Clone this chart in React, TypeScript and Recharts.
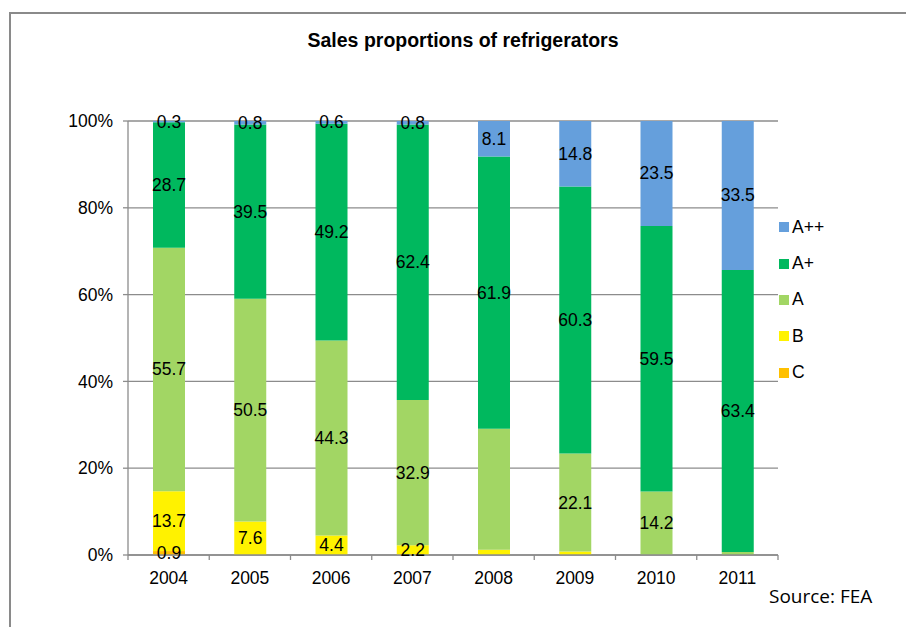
import React from 'react';
import { BarChart, Bar, XAxis, YAxis, CartesianGrid, LabelList } from 'recharts';

const years = ['2004', '2005', '2006', '2007', '2008', '2009', '2010', '2011'];
const aPlusPlus = [0.3, 0.8, 0.6, 0.8, 8.1, 14.8, 23.5, 33.5];
const aPlus = [28.7, 39.5, 49.2, 62.4, 61.9, 60.3, 59.5, 63.4];
const aClass = [55.7, 50.5, 44.3, 32.9, 27.5, 22.1, 14.2, 0.7];
const bClass = [13.7, 7.6, 4.4, 2.2, 1.2, 0.8, 0, 0];
const cClass = [0.9, 0, 0, 0, 0, 0, 0, 0];
// which segments carry a data label in the original
const aLabelled = [1, 1, 1, 1, 0, 1, 1, 0];
const bLabelled = [1, 1, 1, 1, 0, 0, 0, 0];
const cLabelled = [1, 0, 0, 0, 0, 0, 0, 0];
const allLabelled = [1, 1, 1, 1, 1, 1, 1, 1];
const yTicks = [0, 0.2, 0.4, 0.6, 0.8, 1];

const series = [
    { key: 'C', values: cClass, labelled: cLabelled, color: '#FFC000' },
    { key: 'B', values: bClass, labelled: bLabelled, color: '#FFF200' },
    { key: 'A', values: aClass, labelled: aLabelled, color: '#A2D664' },
    { key: 'A+', values: aPlus, labelled: allLabelled, color: '#00B85E' },
    { key: 'A++', values: aPlusPlus, labelled: allLabelled, color: '#659FDC' },
];

const data = years.map((year, i) => {
    const row: Record<string, string | number> = { year };
    series.forEach((s) => { row[s.key] = s.values[i]; });
    return row;
});

const FONT = '"Liberation Sans", Arial, sans-serif';
const GRID = '#8c8c8c';
const PLOT_W = 650;
const BAND = PLOT_W / years.length;

const XTick = (props: any) => {
    const { x, y, payload, index } = props;
    const last = index === years.length - 1;
    return (
        <g>
            <line x1={x - BAND / 2} x2={x - BAND / 2} y1={y} y2={y + 5} stroke={GRID} strokeWidth={1.3} />
            {last && <line x1={x + BAND / 2} x2={x + BAND / 2} y1={y} y2={y + 5} stroke={GRID} strokeWidth={1.3} />}
            <text x={x} y={y + 29} textAnchor="middle" fontSize={17.5} fill="#000" fontFamily={FONT}>{payload.value}</text>
        </g>
    );
};

const makeLabel = (s: typeof series[number]) => (props: any) => {
    const { x, y, width, height, index } = props;
    if (!s.labelled[index] || !s.values[index]) return null;
    return (
        <text
            x={Number(x) + Number(width) / 2}
            y={Number(y) + Number(height) / 2}
            textAnchor="middle"
            dominantBaseline="central"
            fontSize={17.5}
            fontFamily={FONT}
            fill="#000"
        >
            {s.values[index].toFixed(1)}
        </text>
    );
};

const App: React.FC = () => {
    const legendItems = [...series].reverse();
    return (
        <div style={{ position: 'absolute', left: 0, top: 0, width: 906, height: 627, overflow: 'hidden', background: '#fff', fontFamily: FONT }}>
            <div style={{ position: 'absolute', left: 9, top: 12, width: 1000, height: 700, borderTop: '2px solid #8a8a8a', borderLeft: '2px solid #8a8a8a' }} />
            <div style={{ position: 'absolute', left: 0, top: 29, width: 926, textAlign: 'center', fontWeight: 700, fontSize: 19.5 }}>
                Sales proportions of refrigerators
            </div>
            <div style={{ position: 'absolute', left: 0, top: 0 }}>
                <BarChart
                    width={906}
                    height={627}
                    data={data}
                    stackOffset="expand"
                    barSize={32}
                    margin={{ top: 121, right: 128, bottom: 42, left: 68 }}
                >
                    <CartesianGrid vertical={false} stroke={GRID} strokeWidth={1.3} />
                    <XAxis
                        dataKey="year"
                        height={30}
                        axisLine={{ stroke: GRID, strokeWidth: 1.3 }}
                        tickLine={false}
                        tickSize={0}
                        tickMargin={0}
                        interval={0}
                        tick={<XTick />}
                    />
                    <YAxis
                        width={60}
                        ticks={yTicks}
                        domain={[0, 1]}
                        tickFormatter={(v: number) => `${Math.round(v * 100)}%`}
                        axisLine={{ stroke: GRID, strokeWidth: 1.3 }}
                        tickLine={{ stroke: GRID, strokeWidth: 1.3 }}
                        tickSize={5}
                        tickMargin={10}
                        tick={{ fontSize: 17.5, fill: '#000', fontFamily: FONT }}
                    />
                    {series.map((s) => (
                        <Bar key={s.key} dataKey={s.key} stackId="share" fill={s.color} isAnimationActive={false}>
                            <LabelList content={makeLabel(s)} />
                        </Bar>
                    ))}
                </BarChart>
            </div>
            <div style={{ position: 'absolute', left: 779, top: 209, fontSize: 17.5 }}>
                {legendItems.map((s) => (
                    <div key={s.key} style={{ height: 36.4, display: 'flex', alignItems: 'center' }}>
                        <span style={{ display: 'inline-block', width: 10, height: 10, background: s.color, marginRight: 3 }} />
                        <span>{s.key}</span>
                    </div>
                ))}
            </div>
            <div style={{ position: 'absolute', left: 769, top: 583, fontSize: 19, fontFamily: '"Open Sans", sans-serif' }}>
                Source: FEA
            </div>
        </div>
    );
};

export default App;
